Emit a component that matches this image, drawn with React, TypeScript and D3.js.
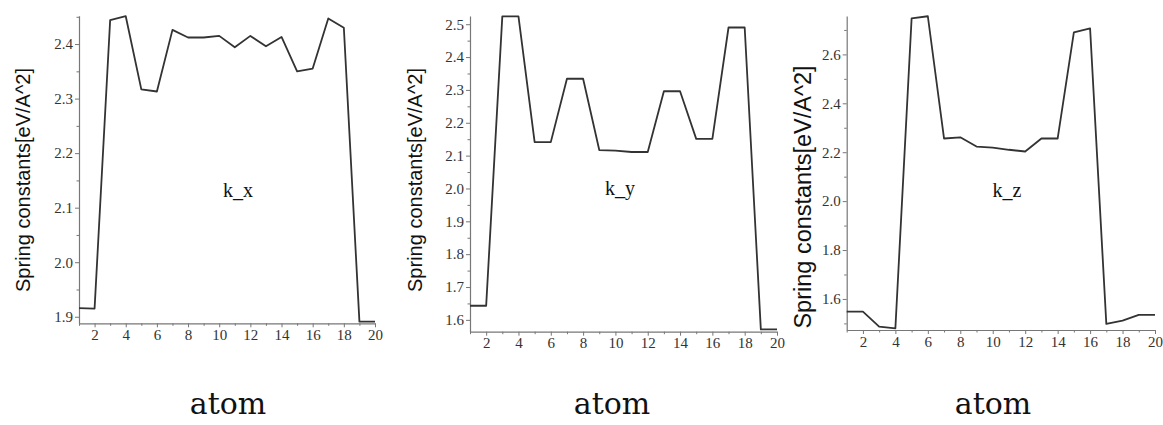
import React, { useEffect, useRef } from "react";
import * as d3 from "d3";

// ---- data ----
const atoms = [1, 2, 3, 4, 5, 6, 7, 8, 9, 10, 11, 12, 13, 14, 15, 16, 17, 18, 19, 20];
const kX = [1.916, 1.915, 2.444, 2.451, 2.317, 2.313, 2.426, 2.412, 2.412, 2.415, 2.394, 2.415, 2.396, 2.413, 2.35, 2.355, 2.447, 2.43, 1.891, 1.891];
const kY = [1.643, 1.643, 2.524, 2.524, 2.141, 2.141, 2.334, 2.334, 2.117, 2.115, 2.111, 2.111, 2.296, 2.296, 2.151, 2.151, 2.49, 2.49, 1.571, 1.571];
const kZ = [1.548, 1.548, 1.487, 1.48, 2.747, 2.756, 2.256, 2.261, 2.223, 2.219, 2.21, 2.203, 2.256, 2.256, 2.69, 2.706, 1.498, 1.511, 1.535, 1.535];
const yTicksX = [1.9, 2.0, 2.1, 2.2, 2.3, 2.4];
const yTicksY = [1.6, 1.7, 1.8, 1.9, 2.0, 2.1, 2.2, 2.3, 2.4, 2.5];
const yTicksZ = [1.6, 1.8, 2.0, 2.2, 2.4, 2.6];
const xTickLabels = [2, 4, 6, 8, 10, 12, 14, 16, 18, 20];
const seriesNames = ["k_x", "k_y", "k_z"];
const yTitle = "Spring constants[eV/A^2]";
const xTitle = "atom";

// ---- layout ----
const panels = [
  { values: kX, ticks: yTicksX, minorStep: 0.05, domain: [1.888, 2.452], x0: 79, x1: 375, yTop: 15.7, yBot: 323.3,
    titleX: 23, titleY: 180, titleSize: 20, labelX: 238, labelY: 190, atomX: 228 },
  { values: kY, ticks: yTicksY, minorStep: 0.05, domain: [1.564, 2.525], x0: 470, x1: 777, yTop: 16, yBot: 331.7,
    titleX: 415, titleY: 180, titleSize: 20, labelX: 620, labelY: 188, atomX: 612 },
  { values: kZ, ticks: yTicksZ, minorStep: 0.1, domain: [1.473, 2.757], x0: 846.7, x1: 1155, yTop: 16, yBot: 330,
    titleX: 803, titleY: 197, titleSize: 23.5, labelX: 1007, labelY: 190, atomX: 993 },
];

const AXIS = "#777";
const TXT = "#333";

export default function App() {
  const ref = useRef<SVGSVGElement>(null);
  useEffect(() => {
    const svg = d3.select(ref.current);
    svg.selectAll("*").remove();
    panels.forEach((p, i) => {
      const x = d3.scaleLinear().domain([atoms[0], atoms[atoms.length - 1]]).range([p.x0, p.x1]);
      const y = d3.scaleLinear().domain(p.domain).range([p.yBot, p.yTop]);
      const g = svg.append("g");

      // minor y ticks
      const minors: number[] = [];
      const lo = Math.ceil(p.domain[0] / p.minorStep - 1e-6);
      const hi = Math.floor(p.domain[1] / p.minorStep + 1e-6);
      for (let k = lo; k <= hi; k++) {
        const v = +(k * p.minorStep).toFixed(3);
        if (!p.ticks.some((t) => Math.abs(t - v) < 1e-6)) minors.push(v);
      }
      const yMinor = g.append("g").attr("transform", `translate(${p.x0},0)`)
        .call(d3.axisLeft(y).tickValues(minors).tickSize(2.5).tickFormat(() => ""));
      yMinor.select(".domain").remove();
      yMinor.selectAll("line").attr("stroke", AXIS);

      const yAx = g.append("g").attr("transform", `translate(${p.x0},0)`)
        .call(d3.axisLeft(y).tickValues(p.ticks).tickSize(4).tickPadding(2).tickSizeOuter(0).tickFormat(d3.format(".1f")));
      yAx.select(".domain").attr("stroke", AXIS).attr("stroke-width", 1.2);
      yAx.selectAll("line").attr("stroke", AXIS);
      yAx.selectAll("text").attr("font-family", "'Liberation Serif', serif").attr("font-size", 15).attr("fill", TXT);

      // x axis
      const xMinor = g.append("g").attr("transform", `translate(0,${p.yBot})`)
        .call(d3.axisBottom(x).tickValues(atoms.filter((a) => !xTickLabels.includes(a))).tickSize(2.5).tickFormat(() => ""));
      xMinor.select(".domain").remove();
      xMinor.selectAll("line").attr("stroke", AXIS);
      const xAx = g.append("g").attr("transform", `translate(0,${p.yBot})`)
        .call(d3.axisBottom(x).tickValues(xTickLabels).tickSize(4).tickPadding(2).tickSizeOuter(0));
      xAx.select(".domain").attr("stroke", AXIS).attr("stroke-width", 1.2);
      xAx.selectAll("line").attr("stroke", AXIS);
      xAx.selectAll("text").attr("font-family", "'Liberation Serif', serif").attr("font-size", 15).attr("fill", TXT);

      // line
      const line = d3.line<number>().x((_, j) => x(atoms[j])).y((d) => y(d));
      g.append("path").attr("d", line(p.values) as string).attr("fill", "none")
        .attr("stroke", "#333").attr("stroke-width", 1.8).attr("stroke-linejoin", "round");

      // series label
      g.append("text").attr("x", p.labelX).attr("y", p.labelY).attr("text-anchor", "middle")
        .attr("dominant-baseline", "central").attr("font-family", "'Liberation Serif', serif")
        .attr("font-size", 20).attr("fill", "#111").text(seriesNames[i]);

      // y title
      g.append("text").attr("transform", `translate(${p.titleX},${p.titleY}) rotate(-90)`)
        .attr("text-anchor", "middle").attr("dominant-baseline", "central")
        .attr("font-family", "'Liberation Sans', Arial, sans-serif").attr("font-size", p.titleSize)
        .attr("fill", "#111").text(yTitle);

      // x title
      g.append("text").attr("x", p.atomX).attr("y", 414).attr("text-anchor", "middle")
        .attr("font-family", "'DejaVu Serif', serif").attr("font-size", 30).attr("fill", "#111").text(xTitle);
    });
  }, []);
  return (
    <svg ref={ref} width={1163} height={425} style={{ position: "absolute", left: 0, top: 0, background: "#fff" }} />
  );
}
